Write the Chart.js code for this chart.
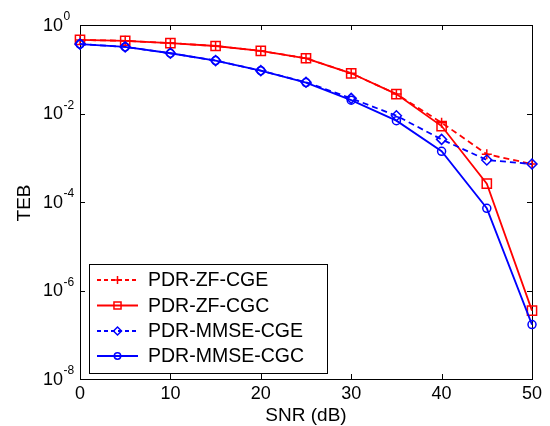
<!DOCTYPE html>
<html>
<head>
<meta charset="utf-8">
<script src="https://cdn.jsdelivr.net/npm/chart.js@4.4.0/dist/chart.umd.min.js"></script>
<style>
  html, body { margin: 0; padding: 0; background: #fff; }
  #wrap { width: 550px; height: 426px; position: relative; }
</style>
</head>
<body>
<div id="wrap"><canvas id="c" width="550" height="426"></canvas></div>
<script>
// ---- data ----
const snr = [0, 5, 10, 15, 20, 25, 30, 35, 40, 45, 50];
const zfCGE   = [0.46, 0.44, 0.39, 0.335, 0.26, 0.177, 0.081, 0.0275, 0.0062, 0.0012, 0.00072];
const zfCGC   = [0.46, 0.44, 0.39, 0.335, 0.26, 0.177, 0.081, 0.0275, 0.0052, 0.00026, 3.5e-7];
const mmseCGE = [0.37, 0.32, 0.23, 0.157, 0.093, 0.051, 0.022, 0.0089, 0.0026, 0.00089, 0.00072];
const mmseCGC = [0.37, 0.32, 0.23, 0.157, 0.093, 0.050, 0.020, 0.0069, 0.0014, 7.2e-5, 1.7e-7];
const seriesNames = ['PDR-ZF-CGE', 'PDR-ZF-CGC', 'PDR-MMSE-CGE', 'PDR-MMSE-CGC'];
const xTicks = [0, 10, 20, 30, 40, 50];
const yTickExps = [0, -2, -4, -6, -8];
const xTitle = 'SNR (dB)';
const yTitle = 'TEB';

const RED = '#ff0000', BLUE = '#0000ff';
const FONT = '"Liberation Sans", Arial, Helvetica, sans-serif';

function pts(arr) { return snr.map((x, i) => ({ x: x, y: arr[i] })); }

const styles = [
  { color: RED,  dash: [6, 4], pointStyle: 'cross',   radius: 5 },
  { color: RED,  dash: [],     pointStyle: 'rect',    radius: 6.5 },
  { color: BLUE, dash: [6, 4], pointStyle: 'rectRot', radius: 5 },
  { color: BLUE, dash: [],     pointStyle: 'circle',  radius: 4 }
];
const allData = [zfCGE, zfCGC, mmseCGE, mmseCGC];

const datasets = allData.map((d, i) => ({
  label: seriesNames[i],
  data: pts(d),
  borderColor: styles[i].color,
  backgroundColor: 'rgba(0,0,0,0)',
  pointBorderColor: styles[i].color,
  pointBackgroundColor: 'rgba(0,0,0,0)',
  borderWidth: 1.8,
  borderDash: styles[i].dash,
  pointStyle: styles[i].pointStyle,
  pointRadius: styles[i].radius,
  pointBorderWidth: 1.5,
  tension: 0,
  clip: false,
  order: 4 - i
}));

const decor = {
  id: 'decor',
  beforeDatasetsDraw(chart) {
    const ctx = chart.ctx;
    const a = chart.chartArea;
    const xs = chart.scales.x, ys = chart.scales.y;
    ctx.save();
    // box
    ctx.strokeStyle = '#000';
    ctx.lineWidth = 1;
    ctx.setLineDash([]);
    ctx.strokeRect(Math.round(a.left) + 0.5, Math.round(a.top) + 0.5,
                   Math.round(a.right - a.left), Math.round(a.bottom - a.top));
    // ticks (inside)
    const tl = 5;
    ctx.beginPath();
    xTicks.forEach(v => {
      const px = Math.round(xs.getPixelForValue(v)) + 0.5;
      ctx.moveTo(px, a.bottom); ctx.lineTo(px, a.bottom - tl);
      ctx.moveTo(px, a.top); ctx.lineTo(px, a.top + tl);
    });
    yTickExps.forEach(e => {
      const py = Math.round(ys.getPixelForValue(Math.pow(10, e))) + 0.5;
      ctx.moveTo(a.left, py); ctx.lineTo(a.left + tl, py);
      ctx.moveTo(a.right, py); ctx.lineTo(a.right - tl, py);
    });
    ctx.stroke();
    // x tick labels
    ctx.fillStyle = '#000';
    ctx.font = '18px ' + FONT;
    ctx.textAlign = 'center';
    ctx.textBaseline = 'middle';
    xTicks.forEach(v => {
      ctx.fillText(String(v), xs.getPixelForValue(v), 394);
    });
    // y tick labels 10^e
    yTickExps.forEach(e => {
      const py = ys.getPixelForValue(Math.pow(10, e));
      ctx.font = '18px ' + FONT;
      ctx.textAlign = 'right';
      ctx.textBaseline = 'middle';
      ctx.fillText('10', 63, py + 1);
      ctx.font = '12px ' + FONT;
      ctx.textAlign = 'left';
      ctx.fillText(String(e), 63.5, py - 8);
    });
    // axis titles
    ctx.font = '19px ' + FONT;
    ctx.textAlign = 'center';
    ctx.textBaseline = 'middle';
    ctx.fillText(xTitle, (a.left + a.right) / 2, 416);
    ctx.save();
    ctx.translate(25, 203);
    ctx.rotate(-Math.PI / 2);
    ctx.fillText(yTitle, 0, 0);
    ctx.restore();
    ctx.restore();
  },
  afterDraw(chart) {
    const ctx = chart.ctx;
    ctx.save();
    // legend
    const lx = 89, ly = 264, lw = 238, lh = 109;
    ctx.fillStyle = '#fff';
    ctx.fillRect(lx, ly, lw, lh);
    ctx.strokeStyle = '#000';
    ctx.lineWidth = 1;
    ctx.strokeRect(lx + 0.5, ly + 0.5, lw, lh);
    const rowY = [280, 305.5, 331, 356];
    seriesNames.forEach((name, i) => {
      const st = styles[i];
      const y = rowY[i];
      ctx.strokeStyle = st.color;
      ctx.lineWidth = 1.8;
      ctx.setLineDash(st.dash.length ? [4, 3] : []);
      ctx.beginPath();
      ctx.moveTo(97, y); ctx.lineTo(138, y);
      ctx.stroke();
      ctx.setLineDash([]);
      ctx.lineWidth = 1.5;
      ctx.fillStyle = 'rgba(0,0,0,0)';
      const r = st.pointStyle === 'rect' ? 5 : (st.pointStyle === 'circle' ? 3.2 : 4);
      Chart.helpers.drawPoint(ctx, { pointStyle: st.pointStyle, radius: r, rotation: 0, borderWidth: 1.5 }, 117.5, y);
      ctx.fillStyle = '#000';
      ctx.font = '19.5px ' + FONT;
      ctx.textAlign = 'left';
      ctx.textBaseline = 'middle';
      ctx.fillText(name, 148, y + 1);
    });
    ctx.restore();
  }
};

new Chart(document.getElementById('c'), {
  type: 'line',
  data: { datasets: datasets },
  options: {
    responsive: false,
    animation: false,
    layout: { padding: { left: 0, right: 18, top: 25, bottom: 0 } },
    plugins: { legend: { display: false }, tooltip: { enabled: false } },
    scales: {
      x: {
        type: 'linear', min: 0, max: 50,
        grid: { display: false, drawTicks: false },
        border: { display: false },
        ticks: { display: false },
        afterFit(s) { s.height = 426 - 379; }
      },
      y: {
        type: 'logarithmic', min: 1e-8, max: 1,
        grid: { display: false, drawTicks: false },
        border: { display: false },
        ticks: { display: false },
        afterFit(s) { s.width = 80; }
      }
    }
  },
  plugins: [decor]
});
</script>
</body>
</html>
